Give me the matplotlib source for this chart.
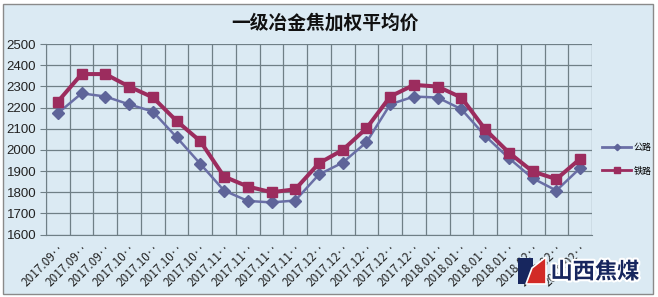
import numpy as np
import matplotlib
matplotlib.use("Agg")
import matplotlib.pyplot as plt
from matplotlib.patches import Rectangle, Polygon
import matplotlib.patheffects as pe

plt.rcParams['font.family'] = ['Noto Sans CJK SC', 'DejaVu Sans']

# weekly labels as they appear (truncated) on the axis
labels = (['2017.09‥'] * 3 + ['2017.10‥'] * 4 + ['2017.11‥'] * 4 +
          ['2017.12‥'] * 5 + ['2018.01‥'] * 4 + ['2018.02‥'] * 3)

road = [2173, 2267, 2252, 2215, 2181, 2060, 1934, 1808, 1759, 1752, 1761, 1884,
        1940, 2036, 2215, 2252, 2247, 2192, 2066, 1961, 1866, 1808, 1914]
rail = [2228, 2358, 2358, 2299, 2248, 2137, 2041, 1874, 1827, 1800, 1814, 1937,
        2000, 2102, 2252, 2307, 2299, 2247, 2097, 1987, 1898, 1862, 1958]
series_names = ['公路', '铁路']

bg = '#dbeaf3'
grid_c = '#6f7f86'
blue = '#6a6fa6'
red = '#9c2c5e'

fig = plt.figure(figsize=(6.58, 2.97), dpi=100)
fig.patch.set_facecolor('white')

# chart area frame
fig.patches.append(Rectangle((3 / 658, 1 - 294 / 297), 650 / 658, 290 / 297,
                             transform=fig.transFigure, facecolor=bg,
                             edgecolor='#8a8a8a', lw=1.0, zorder=-10))

ax = fig.add_axes([46 / 658, 1 - 234.6 / 297, 546 / 658, 190.6 / 297])
ax.set_facecolor(bg)

x = np.arange(len(labels))
ax.plot(x, road, color=blue, lw=1.8, marker='D', ms=6.5, mfc='#5e6499',
        mec='#5e6499', label=series_names[0], zorder=3)
ax.plot(x, rail, color=red, lw=2.9, marker='s', ms=7.5, mfc=red,
        mec=red, label=series_names[1], zorder=4)

ax.set_xlim(-0.5, len(labels) - 0.5)
ax.set_ylim(1600, 2500)
ax.set_yticks(np.arange(1600, 2501, 100))
ax.set_xticks(x)
ax.set_xticks(np.arange(-0.5, len(labels), 1), minor=True)
ax.set_xticklabels(labels, rotation=45, ha='right', va='top',
                   rotation_mode='anchor', fontsize=8.5, color='#222222')
ax.tick_params(axis='x', which='major', length=0, pad=5)
ax.tick_params(axis='x', which='minor', length=0)
ax.tick_params(axis='y', length=4, width=0.8, color=grid_c, pad=3)
for t in ax.get_yticklabels():
    t.set_fontfamily('Liberation Sans')
    t.set_fontsize(9.5)
    t.set_color('#222222')

ax.grid(True, which='minor', axis='x', color=grid_c, lw=0.9)
ax.grid(True, which='major', axis='y', color=grid_c, lw=0.9)
for s in ['top', 'right']:
    ax.spines[s].set_visible(False)
ax.spines['left'].set_color(grid_c)
ax.spines['bottom'].set_color(grid_c)
ax.set_axisbelow(True)

fig.text(325 / 658, 1 - 23 / 297, '一级冶金焦加权平均价', ha='center', va='center',
         fontsize=13.5, fontweight='bold', color='#111111')

leg = fig.legend(loc='upper left', bbox_to_anchor=(594 / 658, 1 - 135 / 297),
                 frameon=False, fontsize=6.5, handlelength=3.2, labelspacing=1.6,
                 handletextpad=0.3, markerscale=0.5)
for h in leg.legend_handles:
    h.set_linewidth(2.0)

# logo watermark
fig.patches.append(Rectangle((518 / 658, 1 - 284 / 297), 15 / 658, 26 / 297,
                             transform=fig.transFigure, facecolor='#17265e',
                             edgecolor='none', zorder=5))
fig.patches.append(Polygon([(526 / 658, 1 - 284 / 297), (532 / 658, 1 - 268 / 297),
                            (546 / 658, 1 - 257 / 297), (546 / 658, 1 - 284 / 297)],
                           closed=True, transform=fig.transFigure,
                           facecolor='#d22a26', edgecolor='white', lw=1.2, zorder=6))
fig.text(595 / 658, 1 - 272 / 297, '山西焦煤', ha='center', va='center',
         fontsize=16, fontweight='bold', color='#17265e', zorder=7,
         path_effects=[pe.withStroke(linewidth=3, foreground='white')])

fig.savefig('out.png', dpi=100, facecolor=fig.get_facecolor())
